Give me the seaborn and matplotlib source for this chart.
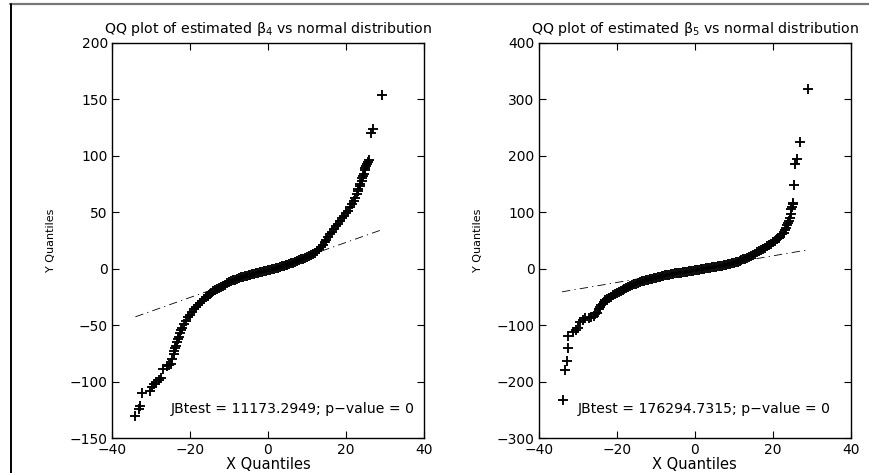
import numpy as np
import pandas as pd
import matplotlib
matplotlib.use("Agg")
import matplotlib.pyplot as plt
from matplotlib.lines import Line2D
import seaborn as sns

# ---------------- data ----------------
# Panel 1: estimated beta_4
b4_x = [-34.0, -33.2, -32.7, -32.3, -30.2, -29.7, -29.3, -28.6, -28.0, -27.4, -26.8,
        -25.9, -25.5, -25.0, -24.6, -24.2, -24.0, -23.8, -23.6, -23.3, -23.0, -22.8,
        -22.5, -22.3, -22.0, -21.5,
        -21.0, -20.5, -20.0, -19.5, -19.0, -18.5, -18.0, -17.5, -17.0, -16.5, -16.0,
        -15.5, -15.0, -14.5, -14.0, -13.5, -13.0, -12.5, -12.0, -11.5, -11.0, -10.5,
        -10.0, -9.5, -9.0, -8.5, -8.0, -7.5, -7.0, -6.5, -6.0, -5.5, -5.0, -4.5, -4.0,
        -3.5, -3.0, -2.5, -2.0, -1.5, -1.0, -0.5, 0.0, 0.5, 1.0, 1.5, 2.0, 2.5, 3.0,
        3.5, 4.0, 4.5, 5.0, 5.5, 6.0, 6.5, 7.0, 7.5, 8.0, 8.5, 9.0, 9.5, 10.0, 10.5,
        11.0, 11.5, 12.0, 12.5, 13.0, 13.5, 14.0, 14.5, 15.0, 15.5, 16.0, 16.5, 17.0,
        17.5, 18.0, 18.5, 19.0, 19.5, 20.0,
        20.5, 21.0, 21.5, 22.0, 22.4, 22.8, 23.0, 23.2, 23.5, 23.7, 24.0, 24.1, 24.3,
        24.5, 24.8, 25.0, 25.2, 25.4, 25.6, 25.8, 26.5, 26.8, 29.2]
b4_y = [-130.0, -124.0, -121.0, -109.5, -108.0, -105.0, -102.0, -100.0, -98.0, -97.0, -89.0,
        -86.0, -85.5, -84.0, -80.0, -75.0, -73.0, -70.0, -68.0, -65.0, -62.0, -60.0,
        -57.0, -54.5, -52.0, -49.0,
        -46.0, -43.0, -40.5, -38.0, -36.0, -33.8, -31.8, -30.0, -28.3, -26.7, -25.2,
        -23.8, -22.5, -21.2, -20.1, -19.1, -18.1, -17.2, -16.2, -15.2, -14.1, -13.0,
        -12.1, -11.2, -10.3, -9.6, -8.9, -8.3, -7.7, -7.2, -6.7, -6.2, -5.7, -5.2, -4.7,
        -4.3, -3.9, -3.5, -3.0, -2.6, -2.2, -1.7, -1.2, -0.7, -0.3, 0.1, 0.6, 1.1, 1.6,
        2.1, 2.6, 3.1, 3.7, 4.3, 4.9, 5.5, 6.1, 6.8, 7.5, 8.2, 8.9, 9.6, 10.4, 11.3,
        12.2, 13.2, 14.3, 15.6, 17.1, 18.9, 21.0, 23.4, 25.8, 28.2, 30.6, 32.9, 35.1,
        37.5, 40.0, 42.4, 44.7, 47.0, 49.2,
        51.5, 54.5, 57.5, 60.0, 63.0, 66.0, 68.5, 70.4, 73.0, 75.0, 78.0, 80.0, 82.0,
        84.0, 87.0, 89.5, 91.0, 92.5, 94.5, 96.3, 120.5, 123.4, 153.4]
b4_ref_x = [-34.0, 29.1]
b4_ref_y = [-42.5, 34.4]

# Panel 2: estimated beta_5
b5_x = [-33.8, -33.2, -32.8, -32.6, -32.4, -31.2, -30.5, -29.9, -29.3, -28.6, -28.0,
        -27.2, -26.5, -25.9, -25.5, -25.0, -24.6, -24.2, -23.9, -23.6, -23.3, -22.9,
        -22.5, -22.0, -21.5,
        -21.0, -20.5, -20.0, -19.5, -19.0, -18.5, -18.0, -17.5, -17.0, -16.5, -16.0,
        -15.5, -15.0, -14.5, -14.0, -13.5, -13.0, -12.5, -12.0, -11.5, -11.0, -10.5,
        -10.0, -9.5, -9.0, -8.5, -8.0, -7.5, -7.0, -6.5, -6.0, -5.5, -5.0, -4.5, -4.0,
        -3.5, -3.0, -2.5, -2.0, -1.5, -1.0, -0.5, 0.0, 0.5, 1.0, 1.5, 2.0, 2.5, 3.0,
        3.5, 4.0, 4.5, 5.0, 5.5, 6.0, 6.5, 7.0, 7.5, 8.0, 8.5, 9.0, 9.5, 10.0, 10.5,
        11.0, 11.5, 12.0, 12.5, 13.0, 13.5, 14.0, 14.5, 15.0, 15.5, 16.0, 16.5, 17.0,
        17.5, 18.0, 18.5, 19.0, 19.5, 20.0, 20.5, 21.0,
        21.5, 22.0, 22.4, 22.8, 23.1, 23.4, 23.7, 23.9, 24.2, 24.5, 24.7, 24.8, 25.0,
        25.1, 25.2, 25.4, 25.6, 26.2, 27.1, 29.1]
b5_y = [-232.0, -179.0, -163.0, -141.0, -119.0, -112.0, -108.0, -104.0, -94.0, -91.0, -88.0,
        -86.7, -85.0, -83.0, -80.5, -78.5, -71.4, -68.5, -65.0, -62.0, -58.5, -56.0,
        -53.7, -51.5, -49.5,
        -47.0, -44.8, -42.8, -40.8, -39.0, -37.3, -35.6, -33.9, -32.1, -30.4, -28.8,
        -27.4, -26.1, -24.9, -23.7, -22.5, -21.4, -20.3, -19.3, -18.3, -17.4, -16.5,
        -15.6, -14.7, -13.8, -13.0, -12.3, -11.6, -10.9, -10.2, -9.6, -9.0, -8.4, -7.8,
        -7.3, -6.8, -6.3, -5.8, -5.2, -4.6, -4.0, -3.4, -2.7, -2.1, -1.5, -0.9, -0.3,
        0.3, 0.9, 1.5, 2.1, 2.7, 3.3, 3.9, 4.5, 5.1, 5.7, 6.3, 7.0, 7.7, 8.5, 9.3, 10.2,
        11.2, 12.3, 13.5, 14.9, 16.4, 18.0, 19.6, 21.3, 23.0, 24.8, 26.8, 28.8, 30.8,
        32.9, 35.1, 37.4, 39.7, 42.1, 44.5, 47.0, 49.5, 52.0,
        54.8, 58.0, 61.0, 63.6, 68.0, 72.5, 77.0, 81.3, 85.0, 90.2, 97.0, 105.0, 110.0,
        114.0, 117.0, 147.8, 186.0, 195.0, 224.4, 317.5]
b5_ref_x = [-34.0, 29.1]
b5_ref_y = [-40.8, 33.5]

titles = ["QQ plot of estimated $\\mathregular{\\beta_4}$ vs normal distribution",
          "QQ plot of estimated $\\mathregular{\\beta_5}$ vs normal distribution"]
jb_texts = ["JBtest = 11173.2949; p\u2212value = 0",
            "JBtest = 176294.7315; p\u2212value = 0"]
x_ticks = [-40, -20, 0, 20, 40]
y_ticks_1 = [-150, -100, -50, 0, 50, 100, 150, 200]
y_ticks_2 = [-300, -200, -100, 0, 100, 200, 300, 400]

# ---------------- style ----------------
sns.set_theme(style="white")
plt.rcParams["font.family"] = ["DejaVu Sans"]
plt.rcParams["mathtext.fontset"] = "dejavusans"
plt.rcParams["axes.unicode_minus"] = True
plt.rcParams["text.color"] = "black"
plt.rcParams["axes.labelcolor"] = "black"
plt.rcParams["axes.titlecolor"] = "black"
plt.rcParams["xtick.color"] = "black"
plt.rcParams["ytick.color"] = "black"

fig = plt.figure(figsize=(8.69, 4.73), dpi=100)
ax1 = fig.add_axes([0.1289, 0.0734, 0.359, 0.8363])
ax2 = fig.add_axes([0.6199, 0.0734, 0.359, 0.8363])

panels = [
    (ax1, b4_x, b4_y, b4_ref_x, b4_ref_y, y_ticks_1, titles[0], jb_texts[0], (-24.9, -124)),
    (ax2, b5_x, b5_y, b5_ref_x, b5_ref_y, y_ticks_2, titles[1], jb_texts[1], (-30.0, -248)),
]

for ax, xs, ys, rx, ry, yt, title, jb, jbpos in panels:
    df = pd.DataFrame({"x": xs, "y": ys})
    sns.scatterplot(data=df, x="x", y="y", ax=ax, marker="+", color="black",
                    s=62, linewidth=1.35, legend=False, zorder=3)
    ref = pd.DataFrame({"x": rx, "y": ry})
    sns.lineplot(data=ref, x="x", y="y", ax=ax, color="black", linewidth=0.6,
                 linestyle=(0, (10, 5, 1.5, 5)), legend=False, zorder=2)
    ax.set_xlim(x_ticks[0], x_ticks[-1])
    ax.set_ylim(yt[0], yt[-1])
    ax.set_xticks(x_ticks)
    ax.set_yticks(yt)
    ax.set_xticklabels([str(v).replace("-", "\u2212") for v in x_ticks])
    ax.set_yticklabels([str(v).replace("-", "\u2212") for v in yt])
    ax.tick_params(direction="in", length=5, width=0.8, top=True, right=True,
                   bottom=True, left=True, labelsize=10, colors="black")
    ax.tick_params(axis="x", pad=3.5)
    ax.tick_params(axis="y", pad=3)
    for sp in ax.spines.values():
        sp.set_color("black")
        sp.set_linewidth(1.0)
    ax.set_xlabel("X Quantiles", fontsize=10.5, labelpad=0, color="black")
    ax.set_ylabel("Y Quantiles", fontsize=8, labelpad=10, color="black")
    ax.set_title(title, fontsize=10.2, pad=7, color="black")
    ax.text(jbpos[0], jbpos[1], jb, fontsize=10.1, va="center", ha="left", color="black")

# partial outer frame (top grey, left black)
fig.add_artist(Line2D([10 / 869, 1.0], [1 - 4.5 / 473, 1 - 4.5 / 473],
                      transform=fig.transFigure, color="#777777", linewidth=1.6))
fig.add_artist(Line2D([10.5 / 869, 10.5 / 869], [0.0, 1 - 4.5 / 473],
                      transform=fig.transFigure, color="black", linewidth=1.4))

fig.savefig("out.png", dpi=100)
